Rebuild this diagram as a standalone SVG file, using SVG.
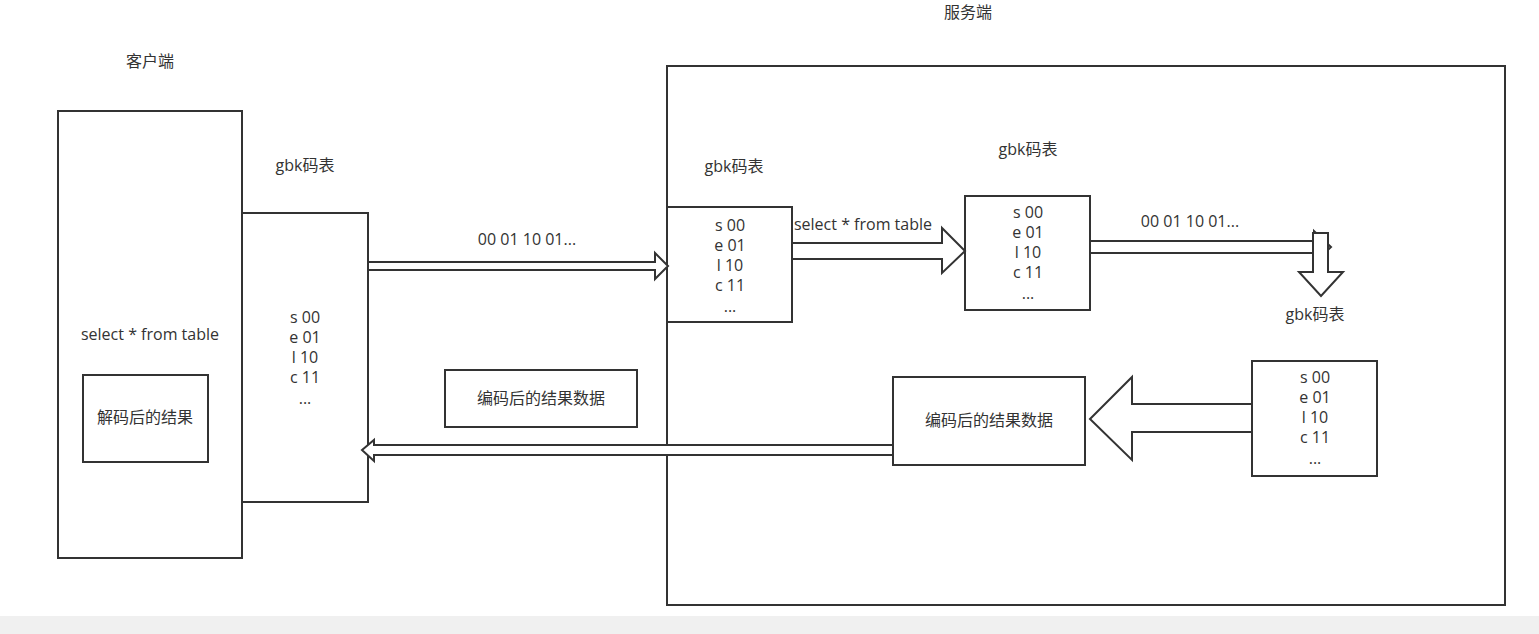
<svg xmlns="http://www.w3.org/2000/svg" width="1539" height="634" viewBox="0 0 1539 634">
<style>
.b{fill:#fff;stroke:#333;stroke-width:2}
.a{fill:#fff;stroke:#333;stroke-width:2;stroke-linejoin:miter}
text{font-family:"Open Sans","Noto Sans CJK SC",sans-serif;font-size:16px;fill:#333;text-anchor:middle}
</style>
<rect x="0" y="0" width="1539" height="634" fill="#fff"/>
<rect x="0" y="616" width="1539" height="18" fill="#f0f0f0"/>
<g id="server"><rect class="b" x="667" y="66" width="838" height="539"/></g>
<g id="client"><rect class="b" x="58" y="111" width="184" height="447"/></g>
<g id="labels">
<text x="150" y="67">客户端</text>
<text x="968" y="18">服务端</text>
<text x="305" y="171">gbk码表</text>
<text x="734" y="172">gbk码表</text>
<text x="1028" y="155">gbk码表</text>
<text x="1315" y="320">gbk码表</text>
<text x="150" y="340">select * from table</text>
<text x="527" y="245">00 01 10 01...</text>
<text x="863" y="230">select * from table</text>
<text x="1190" y="227">00 01 10 01...</text>
</g>
<g id="client-gbk"><rect class="b" x="242" y="213" width="126" height="289"/>
<text x="305" y="323">s 00</text><text x="305" y="343">e 01</text><text x="305" y="363">l 10</text><text x="305" y="383">c 11</text><text x="305" y="404">...</text></g>
<g id="decoded"><rect class="b" x="83" y="375" width="125" height="87"/><text x="145" y="423">解码后的结果</text></g>
<g id="encoded-left"><rect class="b" x="445" y="370" width="192" height="57"/><text x="541" y="404">编码后的结果数据</text></g>
<g id="server-gbk1"><rect class="b" x="667" y="207" width="125" height="115"/>
<text x="730" y="231">s 00</text><text x="730" y="251">e 01</text><text x="730" y="271">l 10</text><text x="730" y="291">c 11</text><text x="730" y="312">...</text></g>
<g id="server-gbk2"><rect class="b" x="965" y="196" width="125" height="114"/>
<text x="1028" y="218">s 00</text><text x="1028" y="238">e 01</text><text x="1028" y="258">l 10</text><text x="1028" y="278">c 11</text><text x="1028" y="299">...</text></g>
<g id="server-gbk3"><rect class="b" x="1252" y="361" width="125" height="115"/>
<text x="1315" y="383">s 00</text><text x="1315" y="403">e 01</text><text x="1315" y="423">l 10</text><text x="1315" y="443">c 11</text><text x="1315" y="464">...</text></g>
<g id="encoded-right"><rect class="b" x="893" y="377" width="192" height="88"/><text x="989" y="426">编码后的结果数据</text></g>
<g id="connectors">
<polygon class="a" points="368,262 655,262 655,253 668,266 655,279 655,270 368,270"/>
<polygon class="a" points="792,243 942,243 942,228 965,251 942,273 942,259 792,259"/>
<polygon class="a" points="1090,241 1314,241 1314,231 1331,247 1314,263 1314,253 1090,253"/>
<polygon class="a" points="1313,233 1328,233 1328,272 1343,272 1321,296 1299,272 1313,272"/>
<polygon class="a" points="1252,404 1132,404 1132,377 1090,419 1132,460 1132,432 1252,432"/>
<polygon class="a" points="893,445 374,445 374,440 362,450 374,461 374,455 893,455"/>
</g>
</svg>
